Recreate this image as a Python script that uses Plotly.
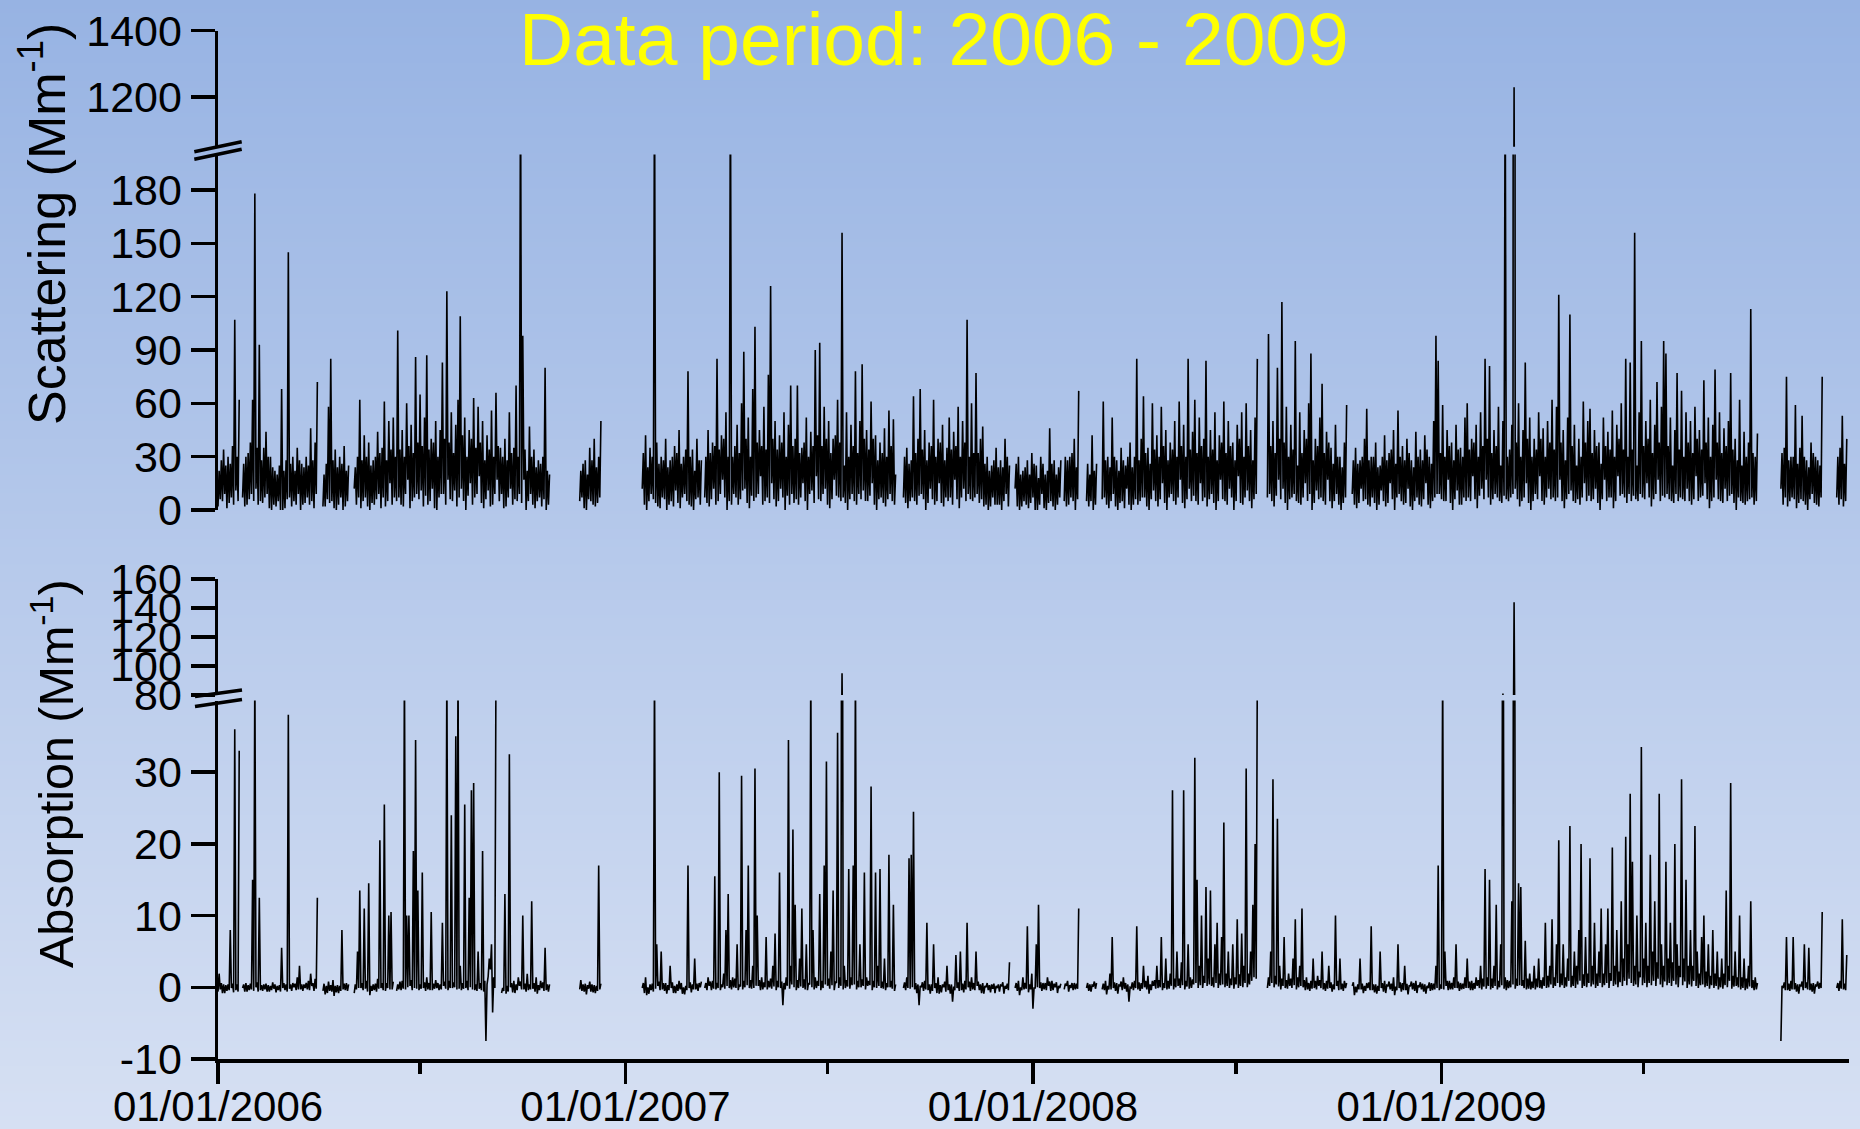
import base64
import struct
import zlib

import pandas as pd
import plotly.graph_objects as go

N = None

# ---------------------------------------------------------------- data
# Values in 2-day bins starting 2006-01-01:
# for each bin the lowest and the highest value seen (None = no data).
START_DATE = "2006-01-01"
END_DATE = "2010-01-01"

SCAT_LOW = [
    2, 6, 5, 9, 1, 4, 7, 3, 11, 5,            # 0
    N, 7, 2, 3, 6, 9, 5, 12, 3, 5,            # 10
    4, 7, 9, 1, 0, 3, 2, 5, 0, 0,             # 20
    1, 6, 7, 2, 5, 3, 9, 0, 3, 4,             # 30
    7, 3, 5, 1, 9, N, N, 2, 2, 6,             # 40
    4, 5, 1, 0, 3, 7, 0, 2, 5, N,             # 50
    N, 12, 3, 7, 1, 5, 7, 2, 0, 4,            # 60
    3, 6, 9, 1, 7, 2, 5, 15, 3, 7,            # 70
    5, 7, 3, 2, 9, 17, 1, 5, 7, 9,            # 80
    6, 11, 2, 8, 3, 5, 12, 1, 0, 7,           # 90
    9, 9, 3, 17, 6, 5, 11, 2, 7, 12,          # 100
    5, 0, 8, 15, 3, 7, 9, 19, 4, 1,           # 110
    6, 11, 2, 3, 9, 17, 5, 9, 1, 2,           # 120
    7, 12, 3, 6, 5, 9, 4, 17, 0, 5,           # 130
    9, 3, 1, 5, 7, 2, 6, 0, 3, N,             # 140
    N, N, N, N, N, N, N, N, N, N,             # 150
    N, N, 5, 7, 1, 0, 6, 5, 3, 2,             # 160
    4, 7, N, N, N, N, N, N, N, N,             # 170
    N, N, N, N, N, N, N, N, N, N,             # 180
    12, 3, 0, 5, 9, 6, 4, 2, 1, 7,            # 190
    6, 0, 3, 5, 2, 11, 4, 1, 7, 9,            # 200
    5, 3, 2, 0, 6, 7, 3, N, 7, 4,             # 210
    2, 6, 12, 3, 5, 9, 17, 7, 0, 5,           # 220
    3, 9, 7, 3, 6, 11, 12, 4, 1, 8,           # 230
    5, 7, 9, 19, 3, 5, 7, 4, 15, 6,           # 240
    2, 5, 12, 7, 0, 8, 3, 9, 4, 6,            # 250
    3, 7, 15, 5, 0, 9, 11, 4, 19, 6,          # 260
    5, 9, 12, 3, 1, 6, 17, 8, 7, 5,           # 270
    7, 4, 0, 6, 9, 5, 3, 9, 6, 11,            # 280
    5, 5, 8, 15, 3, 0, 6, 7, 4, 2,            # 290
    6, 9, 5, 3, N, N, N, 7, 4, 1,             # 300
    5, 7, 5, 3, 8, 9, 6, 0, 4, 12,            # 310
    6, 3, 5, 15, 4, 2, 7, 5, 7, 3,            # 320
    17, 6, 1, 7, 12, 5, 9, 6, 5, 7,           # 330
    9, 4, 6, 2, 3, 0, 2, 7, 3, 3,             # 340
    3, 0, 5, 9, 2, N, N, 12, 2, 0,            # 350
    2, 5, 3, 1, 4, 7, 0, 0, 3, 9,             # 360
    1, 0, 4, 5, 2, 0, 3, 7, N, 5,             # 370
    2, 3, 7, 5, 0, 6, N, N, N, 5,             # 380
    2, 5, 0, 3, N, N, 6, 7, 3, 1,             # 390
    5, 9, 2, 0, 4, 5, 1, 12, 3, 0,            # 400
    3, 6, 3, 5, 7, 7, 2, 0, 6, 11,            # 410
    5, 2, 6, 15, 4, 0, 7, 9, 5, 3,            # 420
    7, 17, 4, 1, 6, 12, 5, 8, 5, 3,           # 430
    15, 5, 7, 2, 6, 9, 4, 0, 5, 17,           # 440
    6, 5, 3, 12, 7, 0, 5, 19, 4, 3,           # 450
    7, 11, 5, 1, 6, 9, N, N, N, N,            # 460
    7, 9, 5, 2, 8, 17, 6, 12, 4, 0,           # 470
    6, 7, 9, 5, 4, 3, 7, 15, 5, 9,            # 480
    0, 4, 11, 6, 7, 5, 3, 17, 5, 1,           # 490
    5, 9, 3, 0, 4, 7, N, N, 9, 3,             # 500
    1, 4, 12, 5, 6, 3, 2, 7, 4, 0,            # 510
    3, 11, 5, 2, 4, 15, 6, 0, 7, 9,           # 520
    5, 3, 4, 12, 2, 0, 5, 7, 3, 2,            # 530
    6, 15, 3, 1, 5, 7, 9, 9, 6, 5,            # 540
    5, 17, 4, 0, 6, 11, 3, 3, 7, 5,           # 550
    7, 5, 19, 6, 1, 8, 12, 6, 17, 7,          # 560
    3, 6, 9, 7, 5, 4, 8, 6, 5, 7,             # 570
    9, 12, 6, 2, 5, 7, 15, 4, 0, 5,           # 580
    9, 6, 19, 5, 3, 7, 12, 6, 7, 5,           # 590
    7, 17, 5, 1, 6, 9, 11, 5, 4, 6,           # 600
    3, 7, 15, 5, 8, 5, 6, 12, 4, 0,           # 610
    6, 17, 5, 7, 7, 1, 5, 19, 8, 9,           # 620
    7, 4, 9, 5, 8, 6, 5, 9, 7, 6,             # 630
    15, 7, 2, 6, 9, 17, 5, 8, 7, 9,           # 640
    6, 5, 4, 9, 5, 7, 6, 5, 12, 5,            # 650
    3, 6, 19, 5, 7, 8, 15, 6, 1, 5,           # 660
    7, 17, 6, 5, 4, 12, 5, 8, 9, 4,           # 670
    0, 7, 5, 4, 3, 5, 6, 7, 3, 5,             # 680
    N, N, N, N, N, N, N, N, N, N,             # 690
    12, 3, 7, 2, 5, 7, 6, 1, 4, 6,            # 700
    5, 3, 0, 6, 9, 4, 3, 2, 7, N,             # 710
    N, N, N, N, N, 7, 3, 6, 2, 5,             # 720
]

SCAT_HIGH = [
    22, 28, 34, 25, 30, 26, 36, 107, 30, 62,          # 0
    N, 26, 30, 32, 38, 62, 178, 35, 93, 28,           # 10
    35, 44, 30, 30, 24, 22, 20, 25, 68, 22,           # 20
    28, 145, 26, 30, 22, 35, 28, 26, 24, 30,          # 30
    25, 46, 28, 38, 72, N, N, 20, 26, 58,             # 40
    85, 28, 34, 24, 30, 26, 36, 22, 25, N,            # 50
    N, 24, 30, 62, 28, 42, 30, 38, 25, 28,            # 60
    30, 44, 32, 35, 61, 28, 50, 34, 52, 30,           # 70
    101, 34, 45, 30, 60, 36, 48, 32, 86, 38,          # 80
    65, 36, 52, 87, 34, 40, 38, 50, 30, 45,           # 90
    83, 40, 123, 38, 55, 32, 48, 62, 109, 42,         # 100
    52, 30, 45, 40, 63, 35, 58, 38, 50, 28,           # 110
    42, 34, 56, 30, 66, 36, 35, 30, 40, 28,           # 120
    55, 32, 35, 70, 30, 250, 98, 34, 22, 47,          # 130
    30, 34, 24, 28, 26, 30, 80, 22, 20, N,            # 140
    N, N, N, N, N, N, N, N, N, N,                     # 150
    N, N, 22, 26, 28, 20, 35, 28, 40, 24,             # 160
    30, 50, N, N, N, N, N, N, N, N,                   # 170
    N, N, N, N, N, N, N, N, N, N,                     # 180
    32, 42, 24, 35, 30, 250, 38, 26, 30, 28,          # 190
    40, 24, 28, 30, 36, 32, 45, 26, 30, 34,           # 200
    78, 30, 34, 22, 40, 28, 28, N, 30, 45,            # 210
    32, 38, 36, 85, 34, 42, 40, 55, 30, 250,          # 220
    30, 36, 48, 32, 60, 89, 40, 52, 30, 68,           # 230
    103, 38, 45, 36, 58, 34, 76, 126, 40, 50,         # 240
    34, 42, 38, 55, 30, 48, 70, 36, 40, 70,           # 250
    32, 35, 38, 52, 30, 44, 36, 90, 42, 94,           # 260
    36, 58, 40, 50, 32, 40, 42, 62, 38, 156,          # 270
    25, 55, 30, 48, 36, 78, 32, 50, 82, 40,           # 280
    45, 34, 61, 40, 42, 28, 38, 32, 46, 30,           # 290
    56, 36, 51, 20, N, N, N, 30, 35, 26,              # 300
    28, 64, 32, 40, 68, 34, 45, 28, 38, 36,           # 310
    62, 30, 40, 38, 48, 28, 35, 52, 34, 44,           # 320
    36, 58, 30, 50, 38, 107, 30, 60, 32, 77,          # 330
    32, 40, 47, 26, 30, 22, 25, 28, 35, 24,           # 340
    28, 24, 40, 30, 25, N, N, 26, 30, 20,             # 350
    22, 24, 28, 20, 32, 26, 25, 18, 30, 26,           # 360
    20, 22, 46, 26, 28, 20, 24, 28, N, 30,            # 370
    28, 30, 32, 40, 24, 67, N, N, N, 26,              # 380
    20, 42, 22, 26, N, N, 61, 28, 30, 24,             # 390
    52, 30, 28, 22, 35, 28, 25, 30, 38, 24,           # 400
    30, 85, 28, 40, 64, 32, 35, 26, 60, 34,           # 410
    42, 30, 58, 36, 45, 28, 38, 34, 50, 30,           # 420
    61, 36, 48, 30, 85, 34, 44, 62, 32, 52,           # 430
    36, 40, 84, 30, 45, 34, 55, 28, 42, 38,           # 440
    61, 32, 50, 36, 38, 28, 48, 40, 55, 30,           # 450
    60, 36, 45, 28, 52, 85, N, N, N, N,               # 460
    99, 36, 50, 32, 80, 40, 117, 38, 58, 30,          # 470
    48, 34, 95, 25, 55, 32, 45, 40, 60, 88,           # 480
    28, 40, 36, 52, 71, 32, 44, 38, 35, 26,           # 490
    48, 30, 30, 24, 38, 59, N, N, 28, 35,             # 500
    26, 28, 30, 40, 57, 28, 30, 30, 38, 24,           # 510
    25, 30, 42, 28, 32, 34, 45, 26, 56, 30,           # 520
    36, 28, 40, 32, 28, 24, 44, 30, 34, 28,           # 530
    42, 34, 30, 26, 50, 98, 84, 32, 59, 30,           # 540
    45, 36, 38, 28, 48, 34, 35, 30, 52, 60,           # 550
    34, 40, 38, 48, 30, 55, 36, 85, 40, 81,           # 560
    32, 45, 36, 58, 25, 50, 250, 30, 34, 48,          # 570
    1229, 38, 60, 30, 45, 83, 40, 52, 30, 40,         # 580
    34, 55, 40, 46, 30, 50, 38, 62, 34, 58,           # 590
    121, 38, 45, 28, 52, 110, 36, 48, 25, 40,         # 600
    30, 61, 38, 50, 57, 32, 45, 36, 38, 26,           # 610
    52, 36, 44, 34, 56, 30, 48, 40, 60, 34,           # 620
    85, 30, 83, 34, 156, 25, 55, 95, 36, 50,          # 630
    40, 62, 32, 48, 72, 38, 58, 95, 88, 36,           # 640
    52, 25, 45, 77, 34, 67, 30, 55, 38, 50,           # 650
    32, 58, 40, 45, 34, 73, 38, 52, 30, 48,           # 660
    79, 38, 55, 32, 46, 36, 50, 77, 34, 40,           # 670
    28, 62, 25, 44, 30, 38, 113, 32, 30, 43,          # 680
    N, N, N, N, N, N, N, N, N, N,                     # 690
    32, 35, 75, 28, 30, 30, 59, 26, 35, 53,           # 700
    30, 28, 24, 38, 32, 30, 28, 25, 75, N,            # 710
    N, N, N, N, N, 30, 35, 53, 26, 40,                # 720
]

ABS_LOW = [
    -0.6, -0.3, -0.8, -0.8, -0.5, -0.4, -0.1, -0.7, -0.4, -0.6,   # 0
    N, -0.1, -0.6, -0.6, -0.4, -0.3, -0.5, 0, -0.6, -0.4,         # 10
    -0.5, -0.3, -0.6, -0.6, -0.4, -0.2, -0.7, -0.4, -0.6, -0.1,   # 20
    -0.4, -0.6, -0.2, -0.5, 0, -0.4, -0.3, -0.3, -0.5, -0.1,      # 30
    -0.3, -0.4, 0.2, -0.5, -0.2, N, N, -0.5, -1, -0.8,            # 40
    -0.5, -0.6, -1.2, -0.7, -0.8, -0.5, -0.3, -0.4, -0.5, N,      # 50
    N, -0.8, -0.3, -0.1, -0.1, -0.4, -0.2, -0.6, -1.1, -0.5,      # 60
    -0.4, -0.6, -0.2, -0.1, -0.4, -0.5, -0.1, -0.3, -0.3, N,      # 70
    -0.5, -0.3, -0.4, -0.2, -0.3, 0, 0.2, -0.4, -0.1, -0.2,       # 80
    -0.4, -0.2, -0.1, -0.5, -0.3, -0.4, -0.4, -0.2, -0.1, -0.4,   # 90
    -0.3, 0.2, -0.2, -0.4, -0.1, -0.1, 0, -0.3, -0.2, -0.4,       # 100
    -0.2, -0.1, -0.4, 0, -0.3, -0.4, -0.5, -0.2, -0.4, -0.6,      # 110
    -7.5, 1.5, 2.5, -3.5, -0.1, N, N, -0.8, -0.5, -0.9,           # 120
    -0.6, 0, -0.7, -0.8, -0.4, 0.2, -0.3, -0.3, -0.6, -0.4,       # 130
    -0.3, -0.2, -0.6, -0.9, -0.4, -0.1, -0.5, -0.4, -0.6, N,      # 140
    N, N, N, N, N, N, N, N, N, N,                                 # 150
    N, N, -0.3, -0.5, -0.6, -1, -0.2, -0.6, -0.7, -0.8,           # 160
    -0.5, -0.3, N, N, N, N, N, N, N, N,                           # 170
    N, N, N, N, N, N, N, N, N, N,                                 # 180
    -0.1, -0.8, -1.1, -0.9, -0.4, -0.6, -0.2, 0.2, -0.4, -0.3,    # 190
    -0.5, -0.9, -0.4, -0.1, -0.8, -0.8, -0.5, -0.3, -0.9, -1,     # 200
    -0.4, -0.1, -0.7, -0.3, -0.3, -0.5, 0, N, -0.1, -0.4,         # 210
    0.2, -0.4, -0.2, -0.3, -0.1, -0.4, 0, -0.2, 0.2, -0.1,        # 220
    -0.3, 0, -0.1, -0.4, 0.1, -0.3, 0, 0.3, -0.1, -0.2,           # 230
    -0.1, 0.2, 0.2, -0.4, -0.3, 0, -0.3, 0, -0.2, 0.1,            # 240
    -0.4, 0, -0.1, -2.5, -0.3, 0.2, -0.2, 0.4, 0, -0.4,           # 250
    -0.1, 0.1, -0.1, -0.3, -0.4, 0.4, 0, -0.3, -0.1, 0.2,         # 260
    -0.4, -0.1, 0.4, 0.2, -0.2, 0.3, -0.4, 0.6, -0.1, 0.2,        # 270
    -0.3, -0.1, 0.1, -0.2, 0.3, 0.4, -0.3, 0, 0, 0.2,             # 280
    -0.3, 0.2, 0.3, -0.4, 0, -0.1, 0.2, -0.1, -0.2, -0.4,         # 290
    0, 0, -0.2, -0.5, N, N, N, -0.1, -0.4, -0.1,                  # 300
    -0.2, 0, -0.3, -0.8, -2.5, 0, -0.5, -0.3, -0.4, -0.9,         # 310
    -0.5, -0.1, -0.8, -0.9, -0.7, 0, -0.6, -0.4, -0.9, -2,        # 320
    -0.4, -0.1, -0.5, -0.4, -0.7, -0.3, 0, -0.5, -0.3, -0.4,      # 330
    0.2, -0.4, -0.8, -0.9, 0, -0.4, -0.7, -0.2, -0.8, -0.1,       # 340
    -0.6, 0.2, -0.9, -0.2, -0.4, N, N, -0.1, -0.5, -1.1,          # 350
    -0.4, -0.3, -0.2, -0.7, -0.3, -3, -0.1, 0, -0.1, -0.5,        # 360
    -0.3, -0.4, 0.2, -0.5, -0.4, 0, -0.8, -0.1, N, -0.3,          # 370
    0.2, -0.6, -0.1, -0.4, -0.3, -0.2, N, N, N, -0.1,             # 380
    -0.5, -0.6, 0.2, -0.2, N, N, -0.3, -0.4, -1, -0.3,            # 390
    -0.3, -0.1, -0.5, -0.9, 0.2, -0.4, -0.2, -0.6, -2, -0.1,      # 400
    -0.4, -0.1, -0.3, -0.5, -0.2, 0, -0.3, -0.9, -0.4, 0.2,       # 410
    -0.2, -0.1, 0, -0.4, -0.1, -0.3, -0.2, 0.2, -0.3, 0,          # 420
    0.2, -0.1, 0.3, -0.3, 0.1, -0.2, -0.1, 0.4, 0.6, -0.1,        # 430
    0.3, -0.1, 0.6, 0.2, 0.4, 0.2, 0, 0.6, -0.1, 0.3,             # 440
    0.4, 0, 0.2, -0.1, 0.3, -0.2, 0.4, -0.1, 0.2, 0,              # 450
    0.6, 0, 0.4, 0.9, 1.4, 1.2, N, N, N, N,                       # 460
    -0.1, 0.2, 0.6, 0, 0.4, 0.1, -0.3, 0.2, -0.1, -0.2,           # 470
    0.2, -0.1, 0.3, -0.3, 0, 0.2, 0, -0.4, -0.3, -0.5,            # 480
    -0.2, -0.1, -0.3, 0.2, -0.1, -0.3, -0.5, -0.2, -0.1, -0.6,    # 490
    -0.3, 0.2, -0.4, -0.3, -0.5, -0.1, N, N, 0.2, -1.1,           # 500
    -0.7, -0.3, -0.3, -0.8, -0.5, -0.1, -0.4, -0.4, -0.7, -0.9,   # 510
    -0.5, -0.1, -0.6, -0.8, 0.2, -0.3, -0.5, -1.1, -0.4, -0.1,    # 520
    -0.6, -0.4, -0.4, -1, 0.2, -0.3, -0.5, -0.8, 0, -0.3,         # 530
    -0.6, -0.9, -0.1, -0.5, -0.4, -0.3, -0.1, -0.4, -0.2, -0.3,   # 540
    0.2, -0.4, -0.3, -0.3, -0.1, -0.1, -0.5, -0.3, -0.2, -0.1,    # 550
    -0.1, -0.4, -0.4, -0.2, 0.2, -0.1, -0.3, 0.1, -0.2, 0.2,      # 560
    -0.3, -0.1, 0.2, -0.3, 0, 0.3, -0.2, -0.4, -0.1, 0,           # 570
    0.4, -0.2, 0.2, 0.3, 0.2, -0.1, -0.3, -0.2, -0.3, -0.1,       # 580
    -0.3, 0, -0.1, -0.2, 0.2, -0.1, 0, 0.4, -0.1, 0.2,            # 590
    0.6, 0, 0.3, -0.1, 0.1, 0.9, 0, 0.2, -0.1, 0.4,               # 600
    0.9, -0.1, 0.2, 0, 0.6, 0.1, 0.4, -0.1, 0.2, 0.6,             # 610
    0, 0.3, 0.6, -0.1, 0.9, 0.2, 0.4, 0, 0.7, 0.2,                # 620
    0.9, 0.3, 1.2, 0.6, 0.2, 0.4, 0, 1.4, 0.3, 0.6,               # 630
    0, 0.6, 0.3, 0.9, 0.2, 1.2, 0.4, 0, 0.8, 0.3,                 # 640
    0.6, 0.2, 0.9, 0.4, 0, 1.4, 0.3, 0.8, -0.1, 0.4,              # 650
    0.1, 0.9, 0.2, -0.1, 0.3, 0.4, 0, 0.2, -0.2, 0.3,             # 660
    -0.1, 0.2, -0.3, 0, -0.2, 0.3, 0, 0.9, -0.2, 0.1,             # 670
    0.2, 0, -0.3, -0.1, -0.4, -0.2, 0.1, -0.1, -0.4, -0.3,        # 680
    N, N, N, N, N, N, N, N, N, N,                                 # 690
    -7.5, -0.1, -0.4, -0.4, -0.5, -0.3, -0.3, -0.6, -0.9, 0.2,    # 700
    -0.4, -0.1, -0.3, -0.4, -0.6, -0.9, 0.2, -0.2, -0.1, N,       # 710
    N, N, N, N, N, -0.1, -0.5, -0.2, -0.3, -0.4,                  # 720
]

ABS_HIGH = [
    1.9, 0.6, 0.4, 0.3, 0.4, 8, 0.5, 36, 0.4, 33,                 # 0
    N, 0.4, 0.6, 0.3, 0.5, 15, 45, 0.7, 12.5, 0.3,                # 10
    0.4, 0.5, 0.3, 0.2, 0.7, 0.4, 0.2, 0.3, 5.5, 0.6,             # 20
    0.4, 38, 0.4, 0.6, 0.5, 1.4, 3, 0.4, 0.4, 0.6,                # 30
    0.9, 1.9, 0.6, 1.2, 12.5, N, N, 0.5, 0.2, 0.8,                # 40
    0.3, 1, 0.2, 0.3, 0.2, 8, 0.5, 0.6, 0.4, N,                   # 50
    N, 0.4, 5, 13.5, 0.6, 11, 0.9, 14.5, 0.2, 0.4,                # 60
    0.5, 1.2, 20.5, 0.6, 25.5, 0.6, 10, 10.5, 0.8, N,             # 70
    0.4, 0.8, 0.9, 45, 10, 10, 1, 19, 34.5, 13.5,                 # 80
    0.4, 16, 0.7, 1.4, 0.6, 10.5, 0.5, 1, 0.6, 0.4,               # 90
    9, 0.8, 45, 0.9, 24, 0.7, 35, 45, 3, 0.6,                     # 100
    25.5, 0.9, 12.5, 27.5, 28.5, 0.4, 5, 0.6, 19, 0.9,            # 110
    0.4, 4, 6, 1.4, 45, N, N, -0.1, 13, 0.2,                      # 120
    32.5, 0.6, 0.9, 0.4, 1.4, 0.8, 10, 0.5, 1.9, 0.4,             # 130
    12, 0.6, 1.4, 0.3, 0.9, 0.7, 5.5, 0.4, 0.4, N,                # 140
    N, N, N, N, N, N, N, N, N, N,                                 # 150
    N, N, 1, 0.4, 0.5, 0.3, 0.8, 0.4, 0.3, 0.2,                   # 160
    17, 0.5, N, N, N, N, N, N, N, N,                              # 170
    N, N, N, N, N, N, N, N, N, N,                                 # 180
    0.6, 1.4, 0, 0.4, 0.5, 45, 6, 0.8, 5, 0.6,                    # 190
    0.6, 0.3, 3, 0.7, 0.2, 0.4, 0.9, 0.6, 0, 0.2,                 # 200
    17, 0.7, 0.4, 4, 0.5, 0.6, 0.8, N, 0.6, 1.4,                  # 210
    0.8, 0.9, 15.5, 0.6, 30, 0.4, 1.9, 8, 13, 1,                  # 220
    1.4, 1.2, 6, 0.4, 29.5, 0.9, 8, 17, 1, 3,                     # 230
    30.5, 10, 1, 1.4, 0.7, 7, 0.9, 1.2, 3, 7.5,                   # 240
    0.9, 16, 0.8, 0.6, 1.4, 34.5, 3, 22, 11.5, 1,                 # 250
    4, 11, 1.1, 6, 0.6, 45, 8, 1.4, 0.9, 13,                      # 260
    0.9, 17, 31.5, 1.2, 5, 13.5, 0.8, 35.5, 1.4, 95,              # 270
    3, 1, 16.5, 1.4, 17, 45, 0.9, 6, 1.1, 16,                     # 280
    1.4, 0.9, 28, 0.9, 16, 3, 16.5, 0.8, 4, 0.6,                  # 290
    18.5, 0.9, 11.5, 0.4, N, N, N, 0.7, 1.4, 18,                  # 300
    18.5, 24.5, 0.6, 0.4, 0.2, 0.7, 0.9, 9, 0.4, 0.4,             # 310
    6, 0.6, 1.4, 0.3, 0.4, 0.8, 3, 0.4, 0.4, 0.1,                 # 320
    4.5, 0.7, 5, 0.5, 0.9, 9, 0.8, 1.4, 0.6, 5,                   # 330
    0.8, 0.4, 0.6, 0.2, 0.6, 0.3, 0.4, 0.5, 0.2, 0.4,             # 340
    0.3, 0.7, 0.2, 0.5, 3.5, N, N, 0.6, 0.9, 0,                   # 350
    1.4, 0.6, 8.5, 0.4, 1.9, -0.1, 6, 11.5, 0.7, 0.6,             # 360
    0.6, 1.4, 0.8, 0.9, 0.5, 0.7, 0.2, 0.5, N, 0.5,               # 370
    0.9, 0.3, 0.6, 0.6, 0.5, 11, N, N, N, 0.6,                    # 380
    0.4, 0.3, 0.8, 0.6, N, N, 0.5, 0.9, 0.2, 1.9,                 # 390
    7, 0.7, 0.6, 0.3, 0.8, 1.4, 0.6, 0.4, 0, 0.7,                 # 400
    0.9, 8.5, 0.7, 0.6, 3, 0.9, 1.6, 0.4, 0.9, 1,                 # 410
    3, 1, 7, 0.6, 4, 0.9, 1.9, 27.5, 1.2, 5,                      # 420
    1.2, 3.5, 27.5, 0.9, 6, 1.4, 1.1, 32, 15, 3,                  # 430
    10, 1.6, 14, 4, 13.5, 1.4, 6, 9, 1.9, 7,                      # 440
    23, 1.9, 5, 1.2, 6, 1.4, 9.5, 1.8, 7.5, 3,                    # 450
    30.5, 1.9, 5, 11.5, 20, 45, N, N, N, N,                       # 460
    1.4, 5, 29, 1.6, 23.5, 3, 1.2, 7, 1, 1.9,                     # 470
    1.2, 4, 9.5, 1.4, 3, 11, 1, 1.4, 0.6, 0.9,                    # 480
    4, 0.9, 1.6, 1, 5, 0.6, 0.9, 3, 0.7, 0.4,                     # 490
    10, 0.9, 4, 0.5, 0.9, 0.6, N, N, 0.7, 0.1,                    # 500
    0.4, 4, 0.5, 0.2, 0.6, 0.7, 8.5, 0.4, 0.4, 0.2,               # 510
    5, 0.6, 0.9, 0.3, 0.8, 0.5, 1.4, 0.1, 6, 0.7,                 # 520
    0.6, 3, 0.5, 0.2, 0.8, 0.6, 0.9, 0.3, 0.7, 0.5,               # 530
    0.4, 0.2, 0.7, 0.6, 0.5, 3, 17, 0.4, 45, 5,                   # 540
    0.9, 0.9, 0.6, 1.4, 6, 0.8, 0.6, 0.5, 1.4, 4,                 # 550
    0.8, 0.9, 0.6, 1.4, 1, 3, 1.2, 16.5, 1.4, 15,                 # 560
    1.2, 3, 11.5, 0.9, 6, 81, 1.4, 1, 0.9, 12,                    # 570
    144, 1.2, 14.5, 14, 1, 6.5, 1.2, 1.9, 0.8, 3,                 # 580
    1.2, 4, 1, 1.4, 9, 1.6, 3, 9.5, 1.4, 6,                       # 590
    20.5, 1.9, 6, 1.4, 4, 22.5, 1.6, 5, 3, 8,                     # 600
    20, 1.8, 7, 1.9, 18, 3, 9, 1.9, 5, 11,                        # 610
    1.9, 6, 11, 2, 19.5, 3, 8, 2.2, 12, 4,                        # 620
    21, 6, 27, 17.5, 3, 10, 2.2, 33.5, 4, 9,                      # 630
    3, 18.5, 5, 12, 3.5, 27, 6, 3, 17.5, 4,                       # 640
    9, 3.5, 20, 6, 3, 29, 4, 15, 3, 8,                            # 650
    3, 22.5, 5, 1.9, 7, 10, 2.2, 6, 1.6, 8,                       # 660
    1.9, 5, 1.4, 4, 1.9, 13.5, 3, 28.5, 1.6, 5,                   # 670
    1.4, 10, 1.4, 4, 1.2, 3, 12, 1, 1.4, 0.6,                     # 680
    N, N, N, N, N, N, N, N, N, N,                                 # 690
    0.2, 0.7, 7, 0.5, 0.9, 7, 0.6, 0.4, 0.3, 0.8,                 # 700
    6, 0.7, 5.5, 0.5, 0.6, 0.3, 0.8, 0.6, 10.5, N,                # 710
    N, N, N, N, N, 0.6, 0.9, 9.5, 0.5, 4.5,                       # 720
]

YEAR_TICKS = ["2006-01-01", "2007-01-01", "2008-01-01", "2009-01-01"]
YEAR_LABELS = ["01/01/2006", "01/01/2007", "01/01/2008", "01/01/2009"]
MID_YEAR_TICKS = ["2006-07-01", "2007-07-01", "2008-07-01", "2009-07-01"]

SCAT_UPPER_TICKS = [1200, 1400]
SCAT_LOWER_TICKS = [0, 30, 60, 90, 120, 150, 180]
ABS_UPPER_TICKS = [80, 100, 120, 140, 160]
ABS_LOWER_TICKS = [-10, 0, 10, 20, 30]

TITLE = "Data period: 2006 - 2009"
SCAT_TITLE = "Scattering (Mm<sup>-1</sup>)"
ABS_TITLE = "Absorption (Mm<sup>-1</sup>)"

for arr in (SCAT_HIGH, ABS_LOW, ABS_HIGH):
    assert len(arr) == len(SCAT_LOW) == 730

# ---------------------------------------------------------------- series
# each 2-day bin: its low on the first day, its high on the second day
days = pd.date_range(START_DATE, periods=2 * len(SCAT_LOW), freq="D")


def interleave(low, high):
    out = []
    for lo, hi in zip(low, high):
        out.extend([lo, hi])
    return out


scattering = interleave(SCAT_LOW, SCAT_HIGH)
absorption = interleave(ABS_LOW, ABS_HIGH)

# ---------------------------------------------------------------- layout helpers
W, H = 1860, 1129
FONT = "Liberation Sans, Arial, Helvetica, sans-serif"


def fx(px):
    return px / W


def fy(px):
    return 1 - px / H


def gradient_png(height, top, bottom):
    raw = b""
    for i in range(height):
        t = i / (height - 1)
        c = bytes(round(top[k] + (bottom[k] - top[k]) * t) for k in range(3))
        raw += b"\x00" + c + c
    def chunk(tag, data):
        return (struct.pack(">I", len(data)) + tag + data
                + struct.pack(">I", zlib.crc32(tag + data) & 0xFFFFFFFF))
    png = (b"\x89PNG\r\n\x1a\n"
           + chunk(b"IHDR", struct.pack(">IIBBBBB", 2, height, 8, 2, 0, 0, 0))
           + chunk(b"IDAT", zlib.compress(raw))
           + chunk(b"IEND", b""))
    return "data:image/png;base64," + base64.b64encode(png).decode()


fig = go.Figure()
line = dict(color="black", width=1.6, simplify=False)
for yax in ("y", "y2"):
    fig.add_trace(go.Scatter(x=days, y=scattering, mode="lines", line=line,
                             yaxis=yax, xaxis="x", hoverinfo="skip",
                             connectgaps=False))
for yax in ("y3", "y4"):
    fig.add_trace(go.Scatter(x=days, y=absorption, mode="lines", line=line,
                             yaxis=yax, xaxis="x", hoverinfo="skip",
                             connectgaps=False))

tickfont = dict(family=FONT, size=43, color="black")
yaxis_common = dict(
    anchor="x", showline=True, linecolor="black", linewidth=3.5,
    ticks="outside", ticklen=24, tickwidth=3.5, tickcolor="black",
    showgrid=False, zeroline=False, tickfont=tickfont, fixedrange=True,
    automargin=False,
)

fig.update_layout(
    width=W, height=H,
    margin=dict(l=0, r=0, t=0, b=0, pad=0, autoexpand=False),
    paper_bgcolor="rgb(183,202,235)",
    plot_bgcolor="rgba(0,0,0,0)",
    showlegend=False,
    hovermode=False,
    xaxis=dict(
        domain=[fx(218), fx(1849)], range=[START_DATE, END_DATE],
        anchor="y4", showline=True, linecolor="black", linewidth=3.5,
        ticks="outside", ticklen=21, tickwidth=3.5, tickcolor="black",
        tickvals=YEAR_TICKS, ticktext=YEAR_LABELS, ticklabelstandoff=-13,
        tickfont=dict(family=FONT, size=42, color="black"),
        showgrid=False, zeroline=False, automargin=False, fixedrange=True,
        minor=dict(tickvals=MID_YEAR_TICKS, ticks="outside", ticklen=11,
                   tickwidth=3.5, tickcolor="black", showgrid=False),
    ),
    yaxis=dict(domain=[fy(146.7), fy(30.7)], range=[1050, 1400],
               tickvals=SCAT_UPPER_TICKS,
               ticktext=[str(v) for v in SCAT_UPPER_TICKS], **yaxis_common),
    yaxis2=dict(domain=[fy(510), fy(154.4)], range=[0, 200],
                tickvals=SCAT_LOWER_TICKS,
                ticktext=[str(v) for v in SCAT_LOWER_TICKS], **yaxis_common),
    yaxis3=dict(domain=[fy(695), fy(579)], range=[80, 160],
                tickvals=ABS_UPPER_TICKS,
                ticktext=[str(v) for v in ABS_UPPER_TICKS], **yaxis_common),
    yaxis4=dict(domain=[fy(1059), fy(700.5)], range=[-10, 40],
                tickvals=ABS_LOWER_TICKS,
                ticktext=[str(v) for v in ABS_LOWER_TICKS], **yaxis_common),
)

# background gradient
fig.add_layout_image(dict(
    source=gradient_png(H, (151, 179, 227), (214, 224, 243)),
    xref="paper", yref="paper", x=0, y=1, sizex=1, sizey=1,
    xanchor="left", yanchor="top", sizing="stretch", layer="below",
))

# axis-break marks
breaks = [
    ((194.3, 151.7), (241.7, 141.7)),
    ((194.3, 159.3), (241.7, 149.3)),
    ((195.0, 696.5), (242.0, 690.0)),
    ((195.0, 706.5), (242.0, 699.5)),
]
for (x0, y0), (x1, y1) in breaks:
    fig.add_shape(type="line", xref="paper", yref="paper",
                  x0=fx(x0), y0=fy(y0), x1=fx(x1), y1=fy(y1),
                  line=dict(color="black", width=3.5))

fig.add_annotation(text=TITLE, xref="paper", yref="paper",
                   x=fx(934), y=fy(39), xanchor="center", yanchor="middle",
                   showarrow=False,
                   font=dict(family=FONT, size=75, color="#ffff00"))
fig.add_annotation(text=SCAT_TITLE, xref="paper", yref="paper",
                   x=fx(43), y=fy(224), xanchor="center", yanchor="middle",
                   textangle=-90, showarrow=False,
                   font=dict(family=FONT, size=52, color="black"))
fig.add_annotation(text=ABS_TITLE, xref="paper", yref="paper",
                   x=fx(52), y=fy(774), xanchor="center", yanchor="middle",
                   textangle=-90, showarrow=False,
                   font=dict(family=FONT, size=48.5, color="black"))

PAGE_JS = ("document.body.style.margin='0';"
           "document.body.style.overflow='hidden';"
           "document.documentElement.style.overflow='hidden';")

fig.write_html("out.html", post_script=PAGE_JS,
               config={"displayModeBar": False, "staticPlot": True})
